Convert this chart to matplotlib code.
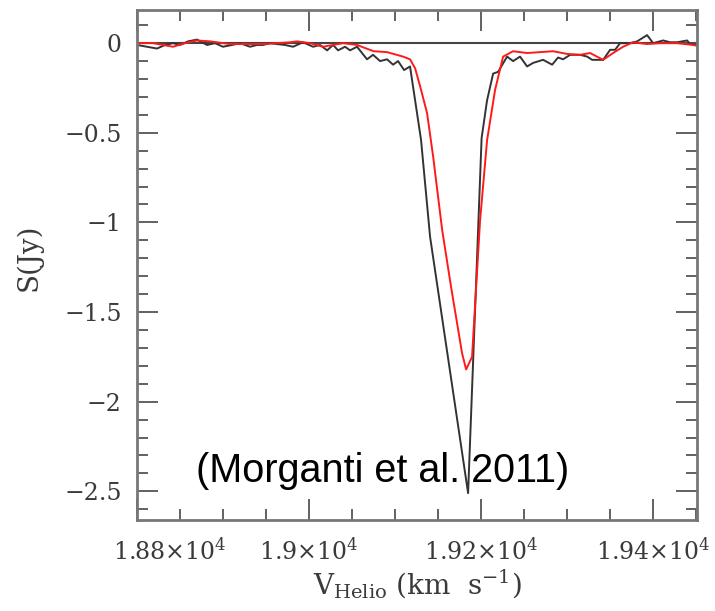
import matplotlib
matplotlib.use('Agg')
import matplotlib.pyplot as plt
import matplotlib.transforms as mtrans
from matplotlib.ticker import FixedLocator, FixedFormatter, MultipleLocator

# Black spectrum (km/s, Jy)
v_black = [18800.0, 18811.6, 18823.3, 18832.6, 18841.9, 18850.0, 18859.3, 18869.8,
           18881.4, 18890.7, 18900.0, 18910.5, 18919.8, 18931.4, 18939.5, 18946.5,
           18954.7, 18962.8, 18972.1, 18981.4, 18993.0, 19004.7, 19012.8, 19021.0,
           19028.0, 19033.7, 19041.9, 19047.7, 19055.8, 19067.4, 19074.4, 19082.6,
           19090.7, 19097.7, 19103.5, 19110.5, 19117.4, 19130.2, 19140.7, 19184.9,
           19200.6, 19206.9, 19214.0, 19219.8, 19230.2, 19237.2, 19245.3, 19253.5,
           19260.5, 19272.1, 19282.6, 19289.5, 19295.3, 19303.5, 19315.1, 19323.3,
           19329.1, 19341.9, 19350.0, 19355.8, 19361.6, 19373.3, 19381.4, 19393.0,
           19400.0, 19411.6, 19419.8, 19427.9, 19439.5, 19443.0, 19451.2]
s_black = [-0.01, -0.02, -0.03, -0.01, 0.00, -0.01, 0.01, 0.02,
           -0.01, 0.00, -0.02, -0.01, 0.00, -0.02, -0.01, -0.01,
           0.00, -0.005, -0.01, -0.02, 0.005, -0.02, -0.01, -0.04,
           -0.01, -0.04, -0.02, -0.04, -0.02, -0.09, -0.065, -0.10,
           -0.09, -0.12, -0.10, -0.15, -0.13, -0.54, -1.08, -2.51,
           -0.53, -0.32, -0.17, -0.16, -0.075, -0.10, -0.075, -0.13,
           -0.11, -0.093, -0.12, -0.08, -0.09, -0.065, -0.065, -0.075,
           -0.093, -0.093, -0.037, -0.037, 0.00, 0.00, 0.01, 0.045,
           0.00, 0.015, 0.005, 0.005, 0.015, -0.005, -0.01]

# Red spectrum (km/s, Jy)
v_red = [18800.0, 18803.5, 18818.6, 18830.2, 18841.9, 18855.8, 18869.8, 18884.9,
         18908.1, 18946.5, 18977.9, 18986.0, 19001.2, 19016.3, 19039.5, 19055.8,
         19064.0, 19075.0, 19090.7, 19109.3, 19117.4, 19123.3, 19129.1, 19137.2,
         19144.2, 19154.7, 19165.1, 19177.9, 19182.6, 19189.5, 19198.8, 19207.0,
         19216.3, 19225.6, 19237.2, 19253.5, 19268.6, 19283.7, 19300.0, 19315.1,
         19326.7, 19341.9, 19353.5, 19365.1, 19376.7, 19393.0, 19408.1, 19427.9,
         19446.5, 19451.2]
s_red = [0.00, 0.00, 0.00, -0.01, -0.02, 0.00, 0.015, 0.01,
         -0.005, -0.005, 0.005, 0.01, 0.00, -0.02, 0.00, -0.01,
         -0.025, -0.045, -0.05, -0.075, -0.09, -0.14, -0.24, -0.39,
         -0.63, -1.04, -1.36, -1.73, -1.82, -1.75, -0.99, -0.54,
         -0.26, -0.075, -0.045, -0.055, -0.05, -0.045, -0.06, -0.065,
         -0.055, -0.093, -0.055, -0.02, 0.005, -0.005, 0.00, 0.00,
         -0.01, -0.015]

xticks = [18800, 19000, 19200, 19400]
xticklabels = [r'$1.88{\times}10^{4}$', r'$1.9{\times}10^{4}$',
               r'$1.92{\times}10^{4}$', r'$1.94{\times}10^{4}$']
yticks = [0, -0.5, -1, -1.5, -2, -2.5]
yticklabels = ['0', '\u22120.5', '\u22121', '\u22121.5', '\u22122', '\u22122.5']

plt.rcParams['mathtext.fontset'] = 'dejavuserif'
plt.rcParams['font.family'] = 'DejaVu Serif'

fig = plt.figure(figsize=(7.15, 6.11), dpi=100)
ax = fig.add_axes([137 / 715, 1 - 520 / 611, 560 / 715, 510 / 611])

ax.axhline(0, color='#444444', lw=1.5, zorder=1)
ax.plot(v_black, s_black, color='#333333', lw=1.4, zorder=2)
ax.plot(v_red, s_red, color='#ff1a1a', lw=1.4, zorder=2.5)

ax.set_xlim(18800, 19451)
ax.set_ylim(-2.66, 0.185)

ax.xaxis.set_major_locator(FixedLocator(xticks))
ax.xaxis.set_major_formatter(FixedFormatter(xticklabels))
ax.xaxis.set_minor_locator(MultipleLocator(50))
ax.yaxis.set_major_locator(FixedLocator(yticks))
ax.yaxis.set_major_formatter(FixedFormatter(yticklabels))
ax.yaxis.set_minor_locator(MultipleLocator(0.1))

ax.tick_params(which='both', direction='in', top=True, right=True,
               color='#555555', width=1.3, labelcolor='#3a3a3a')
ax.tick_params(which='major', length=15, labelsize=17)
ax.tick_params(axis='x', which='major', pad=13)
ax.tick_params(axis='y', which='major', pad=11)
ax.tick_params(which='minor', length=8)

for sp in ax.spines.values():
    sp.set_color('#777777')
    sp.set_linewidth(2)

ax.set_ylabel('S(Jy)', fontsize=20, color='#3a3a3a')
ax.yaxis.set_label_coords(-0.168, 0.516)
ax.set_xlabel(r'$\mathrm{V_{Helio}\ (km\ \ s^{-1})}$', fontsize=20, color='#3a3a3a')
ax.xaxis.set_label_coords(0.5, -0.094)
ax.xaxis.label.set_va('top')

ax.text(0.105, 0.096, '(Morganti et al. 2011)', transform=ax.transAxes,
        fontsize=28.5, family='Liberation Sans', ha='left', va='center', color='black',
        zorder=5)

fig.canvas.draw()
first = ax.xaxis.get_major_ticks()[0].label1
first.set_transform(first.get_transform() + mtrans.ScaledTranslation(33 / 100, 0, fig.dpi_scale_trans))

fig.savefig('out.png', dpi=100)
